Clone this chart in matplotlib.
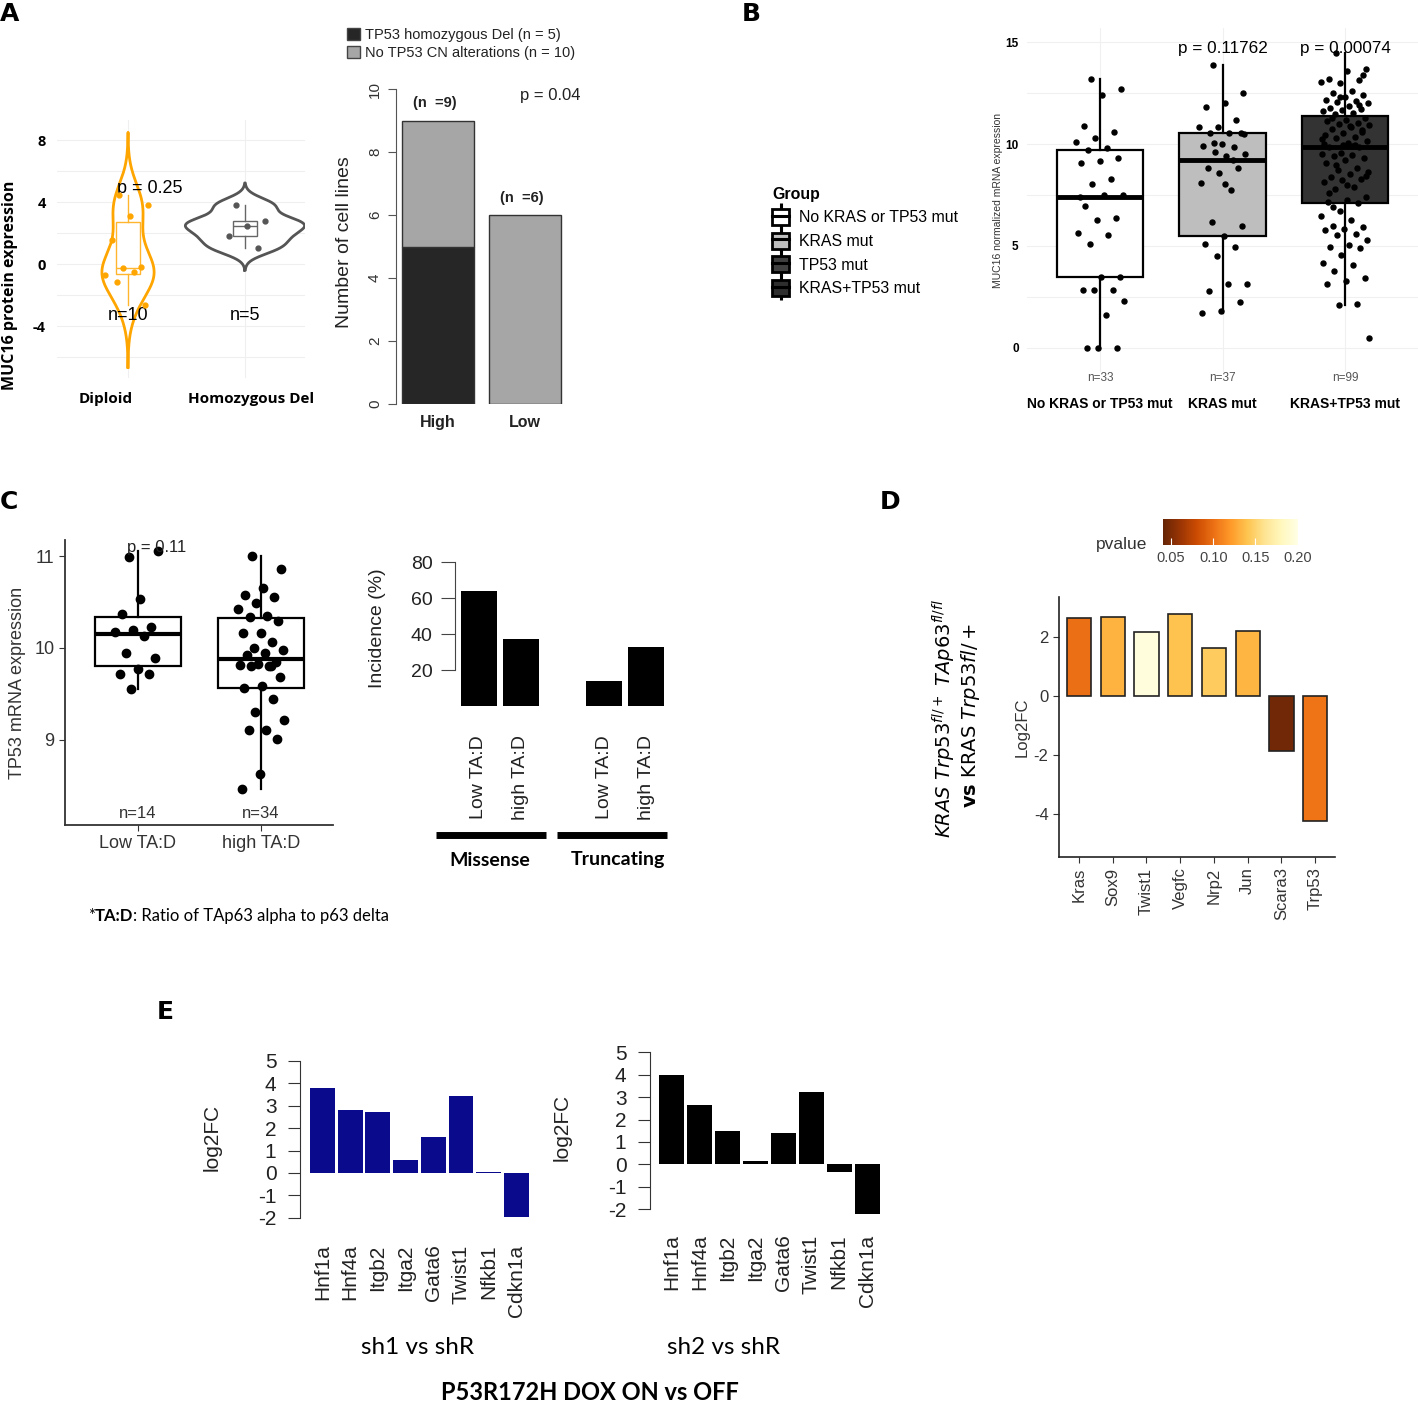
import numpy as np
import matplotlib
matplotlib.use("Agg")
import matplotlib.pyplot as plt
from matplotlib.patches import Patch
from matplotlib.lines import Line2D
from matplotlib.colors import Normalize
from matplotlib.cm import ScalarMappable

plt.rcParams['font.family'] = ['Liberation Sans', 'DejaVu Sans']
plt.rcParams['axes.unicode_minus'] = False

# ---------------- data ----------------
# A (left): MUC16 protein expression by TP53 copy number
muc16_diploid = [4.48, 3.78, 3.07, 1.58, -0.17, -0.28, -0.69, -0.5, -1.19, -2.64]
muc16_homdel = [3.8, 2.77, 2.46, 1.79, 1.04]

# A (right): number of cell lines, High / Low MUC16
cn_groups = ['High', 'Low']
cn_del = [5, 0]
cn_noalt = [4, 6]

# B: MUC16 mRNA by mutation group
b_groups = ['No KRAS or TP53 mut', 'KRAS mut', 'KRAS+TP53 mut']
b_none = [13.2, 12.7, 12.4, 10.9, 10.6, 10.3, 10.1, 9.8, 9.7, 9.3, 9.15, 9.05, 8.3,
          8.05, 7.5, 7.5, 6.95, 6.35, 6.25, 5.65, 5.55, 5.1, 3.5, 3.5, 2.85, 2.85,
          2.85, 2.3, 1.6, 0, 0, 0, 7.4]
b_kras = [13.9, 12.5, 12.0, 11.8, 11.2, 10.85, 10.85, 10.55, 10.55, 10.55, 10.0, 9.9,
          9.85, 9.6, 9.5, 9.4, 8.8, 8.8, 8.6, 8.1, 7.75, 6.2, 6.0, 5.5, 5.1, 4.95, 4.5,
          3.15, 3.15, 2.8, 2.25, 1.8, 1.7, 9.2, 10.05, 10.5, 8.05]
b_kras_tp53 = [14.45, 13.7, 13.6, 13.2, 13.15, 13.0, 13.05, 12.6, 12.5, 12.4,
               12.3, 12.15, 12.1, 12.05, 12.0, 11.85, 11.75, 11.7, 11.65, 11.6,
               11.5, 11.45, 11.3, 11.2, 11.15, 11.05, 11.0, 10.95, 10.85, 10.75,
               10.7, 10.55, 10.45, 10.35, 10.3, 10.15, 10.05, 9.87, 9.86, 9.55,
               9.5, 9.45, 9.4, 9.3, 9.2, 9.05, 8.8, 8.75, 8.65, 8.55,
               8.4, 8.3, 8.25, 8.15, 7.9, 7.8, 7.4, 7.25, 7.15, 7.1,
               6.7, 6.45, 6.25, 6.0, 5.95, 5.85, 5.8, 5.6, 5.55, 5.3,
               5.05, 4.95, 4.9, 4.55, 4.15, 4.05, 3.75, 3.45, 3.3, 3.15,
               2.15, 2.1, 0.5, 10.9, 11.3, 10.6, 9.95, 10.0, 9.95, 8.95,
               8.45, 8.0, 7.6, 11.9, 12.3, 10.25, 9.9, 6.9, 13.4]
b_n = ['n=33', 'n=37', 'n=99']
b_pvals = ['', 'p = 0.11762', 'p = 0.00074']
b_fill = ['white', '#BEBEBE', '#333333']
b_legend = ['No KRAS or TP53 mut', 'KRAS mut', 'TP53 mut', 'KRAS+TP53 mut']
b_legend_fill = ['white', '#BEBEBE', '#404040', '#2E2E2E']

# C (left): TP53 mRNA by TA:D ratio
c_groups = ['Low TA:D', 'high TA:D']
c_low = [10.99, 11.06, 10.54, 10.37, 10.23, 10.2, 10.18, 10.13, 9.95, 9.89,
         9.77, 9.72, 9.72, 9.55]
c_high = [11.01, 10.86, 10.66, 10.58, 10.56, 10.49, 10.43, 10.35, 10.34, 10.3,
          10.16, 10.16, 10.07, 10.0, 9.98, 9.95, 9.92, 9.85, 9.83, 9.81, 9.8,
          9.8, 9.68, 9.58, 9.56, 9.44, 9.3, 9.21, 9.1, 9.1, 9.01, 8.62, 8.46, 9.8]

# C (right): incidence of TP53 mutation types
inc_labels = ['Low TA:D', 'high TA:D', 'Low TA:D', 'high TA:D']
inc_values = [64, 37, 14, 33]
inc_types = ['Missense', 'Truncating']

# D: log2FC with p values
d_genes = ['Kras', 'Sox9', 'Twist1', 'Vegfc', 'Nrp2', 'Jun', 'Scara3', 'Trp53']
d_log2fc = [2.64, 2.68, 2.17, 2.79, 1.63, 2.21, -1.88, -4.23]
d_pval = [0.10, 0.132, 0.195, 0.14, 0.145, 0.133, 0.045, 0.103]

# E: P53R172H DOX ON vs OFF
e_genes = ['Hnf1a', 'Hnf4a', 'Itgb2', 'Itga2', 'Gata6', 'Twist1', 'Nfkb1', 'Cdkn1a']
e_sh1 = [3.78, 2.80, 2.72, 0.58, 1.59, 3.45, 0.06, -1.96]
e_sh2 = [3.97, 2.66, 1.47, 0.16, 1.38, 3.23, -0.36, -2.22]

# ---------------- helpers ----------------
W, H = 1418, 1404
fig = plt.figure(figsize=(W / 100, H / 100), dpi=100)


def px_axes(l, t, r, b):
    return fig.add_axes([l / W, 1 - b / H, (r - l) / W, (b - t) / H])


def ftext(x, y, s, **kw):
    return fig.text(x / W, 1 - y / H, s, **kw)


def fline(x1, x2, y, **kw):
    fig.add_artist(Line2D([x1 / W, x2 / W], [1 - y / H, 1 - y / H],
                          transform=fig.transFigure, **kw))


def jitter(n, amp):
    return ((np.arange(n) * 0.618034 + 0.31) % 1 - 0.5) * 2 * amp


def nrd0(v):
    v = np.asarray(v)
    q75, q25 = np.percentile(v, [75, 25])
    return 0.9 * min(v.std(ddof=1), (q75 - q25) / 1.34) * len(v) ** -0.2


def kde(v):
    v = np.asarray(v)
    bw = nrd0(v)
    yy = np.linspace(v.min() - 3 * bw, v.max() + 3 * bw, 300)
    d = np.exp(-0.5 * ((yy[:, None] - v[None, :]) / bw) ** 2).sum(1)
    d /= len(v) * bw * np.sqrt(2 * np.pi)
    return yy, d


def no_spines(ax):
    for s in ax.spines.values():
        s.set_visible(False)


# panel letters
for x, y, s in [(0, 2, 'A'), (742, 2, 'B'), (0, 490, 'C'), (880, 490, 'D'), (157, 1000, 'E')]:
    ftext(x, y, s, fontsize=18, fontweight='bold', va='top', family='DejaVu Sans')

# ---------------- A left: violin ----------------
axv = px_axes(57, 120, 305, 378)
viol_cols = ['#FFA500', '#555555']
dens = [kde(muc16_diploid), kde(muc16_homdel)]
dmax = max(d.max() for _, d in dens)
for i, (yy, d) in enumerate(dens):
    hw = d / dmax * 0.51
    pos = i + 1
    axv.fill_betweenx(yy, pos - hw, pos + hw, color='white', zorder=1)
    axv.plot(np.r_[pos - hw, (pos + hw)[::-1], pos - hw[0]],
             np.r_[yy, yy[::-1], yy[0]], color=viol_cols[i], lw=2, zorder=2)
box_cols = ['#FFB52E', '#666666']
for i, vals in enumerate([muc16_diploid, muc16_homdel]):
    c = box_cols[i]
    axv.boxplot([vals], positions=[i + 1], widths=0.2, showcaps=False, showfliers=False,
                patch_artist=True, manage_ticks=False,
                boxprops=dict(facecolor='white', edgecolor=c, lw=1),
                medianprops=dict(color=c, lw=1), whiskerprops=dict(color=c, lw=1),
                zorder=3)
    axv.plot(i + 1 + jitter(len(vals), 0.2), vals, 'o', ms=3.5,
             color=viol_cols[i], zorder=4)
axv.set_xlim(0.393, 2.513)
axv.set_ylim(-7.35, 9.29)
no_spines(axv)
axv.set_yticks([-4, 0, 4, 8])
axv.set_yticks([-6, -2, 2, 6], minor=True)
axv.set_xticks([1, 2])
axv.set_xticklabels(['', ''])
axv.tick_params(which='both', length=0, labelsize=10.5, pad=8)
for lab in axv.get_yticklabels():
    lab.set_fontweight('bold')
    lab.set_family('Open Sans')
axv.grid(True, which='both', color='#EFEFEF', lw=0.8)
axv.set_axisbelow(True)
axv.text(1.19, 4.9, 'p = 0.25', fontsize=13, ha='center', va='center')
axv.text(1, -3.35, 'n=10', fontsize=13, ha='center', va='center')
axv.text(2, -3.35, 'n=5', fontsize=13, ha='center', va='center')
ftext(106, 399, 'Diploid', fontsize=11, fontweight='bold', ha='center', va='center',
      family='Open Sans')
ftext(251, 399, 'Homozygous Del', fontsize=11, fontweight='bold', ha='center', va='center',
      family='Open Sans')
ftext(10, 285, 'MUC16 protein expression', fontsize=11.5, fontweight='bold', rotation=90,
      ha='center', va='center', family='Open Sans')

# ---------------- A right: stacked bars ----------------
axs = px_axes(396, 80, 575, 404)
axs.set_xlim(0.12, 2.59)
axs.set_ylim(0, 10.29)
xs = [0.7, 1.9]
axs.bar(xs, cn_del, width=1, color='#262626', edgecolor='#333333', lw=1)
axs.bar(xs, cn_noalt, bottom=cn_del, width=1, color='#A6A6A6', edgecolor='#333333', lw=1)
for s in ['top', 'right', 'bottom']:
    axs.spines[s].set_visible(False)
axs.spines['left'].set_bounds(0, 10)
axs.spines['left'].set_color('#555555')
axs.set_yticks(range(0, 11, 2))
axs.set_yticklabels([str(v) for v in range(0, 11, 2)], rotation=90, va='center')
axs.tick_params(axis='y', length=6, color='#555555', labelsize=11, labelcolor='#333333',
                pad=4)
axs.set_xticks(xs)
axs.set_xticklabels(cn_groups, fontsize=11.5, fontweight='bold', color='#222222')
axs.tick_params(axis='x', length=0, pad=8)
axs.set_ylabel('Number of cell lines', fontsize=14, color='#222222', labelpad=11)
totals = np.add(cn_del, cn_noalt)
for x, c in zip(xs, totals):
    axs.text(x - 0.04, c + 0.55, '(n  =%d)' % c, fontsize=10.5, fontweight='bold',
             ha='center', va='center', color='#222222')
axs.text(2.25, 9.8, 'p = 0.04', fontsize=12, ha='center', va='center', color='#222222')
axs.legend([Patch(fc='#262626', ec='#444444'), Patch(fc='#A6A6A6', ec='#444444')],
           ['TP53 homozygous Del (n = 5)', 'No TP53 CN alterations (n = 10)'],
           loc='upper left', bbox_to_anchor=(340 / W, 1 - 21 / H),
           bbox_transform=fig.transFigure, frameon=False, fontsize=10.5,
           handlelength=0.9, handleheight=0.9, handletextpad=0.3, labelspacing=0.25,
           borderpad=0, labelcolor='#222222')

# ---------------- B: box + jitter ----------------
axb = px_axes(1027, 28, 1418, 372)
b_data = [b_none, b_kras, b_kras_tp53]
for i, vals in enumerate(b_data):
    axb.boxplot([vals], positions=[i + 1], widths=0.71, showcaps=False, showfliers=False,
                patch_artist=True, manage_ticks=False,
                boxprops=dict(facecolor=b_fill[i], edgecolor='black', lw=1.6),
                medianprops=dict(color='black', lw=3.5),
                whiskerprops=dict(color='black', lw=1.6), zorder=2)
    axb.plot(i + 1 + jitter(len(vals), 0.2), vals, 'o', ms=3.6, color='black', zorder=3)
    axb.text(i + 1, -1.45, b_n[i], fontsize=8.5, color='#555555', ha='center',
             va='center', clip_on=False)
    axb.text(i + 1, -2.75, b_groups[i], fontsize=10, fontweight='bold', ha='center',
             va='center', clip_on=False)
    if b_pvals[i]:
        axb.text(i + 1, 14.7, b_pvals[i], fontsize=12.3, ha='center', va='center')
axb.set_xlim(0.404, 3.596)
axb.set_ylim(-1.18, 15.69)
no_spines(axb)
axb.set_yticks([0, 5, 10, 15])
axb.set_yticks([2.5, 7.5, 12.5], minor=True)
axb.set_xticks([1, 2, 3])
axb.set_xticklabels(['', '', ''])
axb.tick_params(which='both', length=0, labelsize=8.5, pad=6)
for lab in axb.get_yticklabels():
    lab.set_fontweight('bold')
axb.grid(True, which='both', color='#F0F0F0', lw=0.8)
axb.set_axisbelow(True)
axb.set_ylabel('MUC16 normalized mRNA expression', fontsize=7.5, color='#333333',
               labelpad=2)
leg_handles = []
for fc in b_legend_fill:
    leg_handles.append((Line2D([], [], color='black', marker='|', ls='None', ms=19, mew=2.2),
                        Patch(fc=fc, ec='black', lw=2),
                        Line2D([], [], color='black', lw=2.2)))
fig.legend(leg_handles, b_legend, loc='upper left',
           bbox_to_anchor=(764 / W, 1 - 179 / H), frameon=False, fontsize=11.4,
           title='Group', alignment='left', handlelength=1.1, handleheight=1.2,
           handletextpad=0.6, labelspacing=0.45, borderpad=0,
           title_fontproperties={'weight': 'bold', 'size': 11.4})

# ---------------- C left: box + jitter ----------------
axc = px_axes(65, 540, 333, 825)
c_data = [c_low, c_high]
for i, vals in enumerate(c_data):
    axc.boxplot([vals], positions=[i + 1], widths=0.7, showcaps=False, showfliers=False,
                patch_artist=True, manage_ticks=False,
                boxprops=dict(facecolor='white', edgecolor='black', lw=1.6),
                medianprops=dict(color='black', lw=3),
                whiskerprops=dict(color='black', lw=1.6), zorder=2)
    axc.plot(i + 1 + jitter(len(vals), 0.19), vals, 'o', ms=6, color='black', zorder=3)
axc.set_xlim(0.407, 2.585)
axc.set_ylim(8.066, 11.18)
for s in ['top', 'right']:
    axc.spines[s].set_visible(False)
for s in ['left', 'bottom']:
    axc.spines[s].set_color('#333333')
    axc.spines[s].set_linewidth(1.3)
axc.set_yticks([9, 10, 11])
axc.set_xticks([1, 2])
axc.set_xticklabels(c_groups)
axc.tick_params(labelsize=13, length=4, color='#333333', labelcolor='#333333')
axc.set_ylabel('TP53 mRNA expression', fontsize=13, color='#333333', labelpad=6)
axc.text(1.15, 11.1, 'p = 0.11', fontsize=12, ha='center', va='center', color='#222222')
for i, n in enumerate([len(c_low), len(c_high)]):
    axc.text(i + 1, 8.19, 'n=%d' % n, fontsize=12, ha='center', va='center',
             color='#333333')

# footnote, pieces placed one after the other
rend = fig.canvas.get_renderer()
x0 = 88
for s, wt in [('*', 'normal'), ('TA:D', 'bold'), (': Ratio of TAp63 alpha to p63 delta', 'normal')]:
    t = ftext(x0, 916, s, fontsize=12, fontweight=wt, va='center', family='Lato')
    x0 = t.get_window_extent(rend).x1

# ---------------- C right: incidence bars ----------------
axi = px_axes(455, 550, 670, 706)
inc_pos = [0, 1, 3, 4]
axi.set_xlim(-0.571, 4.571)
axi.set_ylim(0, 86.7)
axi.bar(inc_pos, inc_values, width=0.857, color='black')
for s in ['top', 'right', 'bottom']:
    axi.spines[s].set_visible(False)
axi.spines['left'].set_bounds(20, 80)
axi.spines['left'].set_color('#444444')
axi.set_yticks([20, 40, 60, 80])
axi.tick_params(axis='y', labelsize=14, length=10, color='#444444', labelcolor='#222222',
                pad=6)
axi.set_xticks(inc_pos)
axi.set_xticklabels(inc_labels, rotation=90, va='top', fontsize=14, color='#222222')
axi.tick_params(axis='x', length=0, pad=21)
axi.set_ylabel('Incidence (%)', fontsize=14, color='#222222', labelpad=18)
fline(436, 546, 835, color='black', lw=5, solid_capstyle='butt')
fline(557, 667, 835, color='black', lw=5, solid_capstyle='butt')
ftext(490, 860, inc_types[0], fontsize=14, fontweight='bold', ha='center', va='center',
      family='Lato')
ftext(618, 860, inc_types[1], fontsize=14, fontweight='bold', ha='center', va='center',
      family='Lato')

# ---------------- D: log2FC bars coloured by p value ----------------
axd = px_axes(1059, 597, 1335, 857)
axd.set_xlim(0.407, 8.59)
axd.set_ylim(-5.46, 3.36)
cmap = plt.get_cmap('YlOrBr_r')
norm = Normalize(0.0405, 0.2005)
d_pos = np.arange(1, len(d_genes) + 1)
axd.bar(d_pos, d_log2fc, width=0.72, color=cmap(norm(np.array(d_pval))),
        edgecolor='#222222', lw=1.2)
for s in ['top', 'right']:
    axd.spines[s].set_visible(False)
for s in ['left', 'bottom']:
    axd.spines[s].set_color('#222222')
    axd.spines[s].set_linewidth(1.2)
axd.set_yticks([-4, -2, 0, 2])
axd.set_xticks(d_pos)
axd.set_xticklabels(d_genes, rotation=90, va='top')
axd.tick_params(labelsize=12, labelcolor='#333333', length=4, color='#333333')
axd.set_ylabel('Log2FC', fontsize=12, color='#333333', labelpad=3)
cax = px_axes(1163, 519, 1298, 545)
cb = fig.colorbar(ScalarMappable(norm=norm, cmap=cmap), cax=cax, orientation='horizontal')
cb.outline.set_visible(False)
cb.set_ticks([0.05, 0.10, 0.15, 0.20])
cb.set_ticklabels(['0.05', '0.10', '0.15', '0.20'])
cax.tick_params(direction='in', color='white', length=5, labelsize=10.5,
                labelcolor='#444444', pad=4)
ftext(1122, 544, 'pvalue', fontsize=12.5, ha='center', va='center', color='#333333')
ftext(944, 719, r'$KRAS\ Trp53^{fl/+}\ TAp63^{fl/fl}$', fontsize=14, rotation=90,
      ha='center', va='center', family='DejaVu Sans')
ftext(970, 716, r'$\mathbf{vs}$ KRAS $Trp53fl/+$', fontsize=14, rotation=90,
      ha='center', va='center', family='DejaVu Sans')


# ---------------- E: two bar charts ----------------
def e_panel(box, vals, color, ylim, xlim, sub, sub_x, labpad):
    ax = px_axes(*box)
    pos = np.arange(len(vals))
    ax.bar(pos, vals, width=0.9, color=color)
    ax.set_xlim(*xlim)
    ax.set_ylim(*ylim)
    for s in ['top', 'right', 'bottom']:
        ax.spines[s].set_visible(False)
    ax.spines['left'].set_bounds(-2, 5)
    ax.spines['left'].set_color('#333333')
    ax.set_yticks(range(-2, 6))
    ax.tick_params(axis='y', labelsize=15, length=9, color='#333333', labelcolor='#222222',
                   pad=8)
    ax.set_xticks(pos)
    ax.set_xticklabels(e_genes, rotation=90, va='top', fontsize=15, color='#222222')
    ax.tick_params(axis='x', length=0, pad=14)
    ax.set_ylabel('log2FC', fontsize=15, color='#222222', labelpad=labpad)
    ftext(sub_x, 1348, sub, fontsize=17.5, ha='center', va='center', family='Lato')
    return ax


e_panel((300, 1050, 540, 1225), e_sh1, '#0A0A8C', (-2.32, 5.48), (-0.81, 7.85),
        'sh1 vs shR', 418, 26)
e_panel((650, 1040, 890, 1215), e_sh2, 'black', (-2.26, 5.55), (-0.77, 7.82),
        'sh2 vs shR', 724, 26)
ftext(590, 1392, 'P53R172H DOX ON vs OFF', fontsize=17, fontweight='bold', ha='center',
      va='center', family='Lato')

fig.savefig('out.png', dpi=100)
